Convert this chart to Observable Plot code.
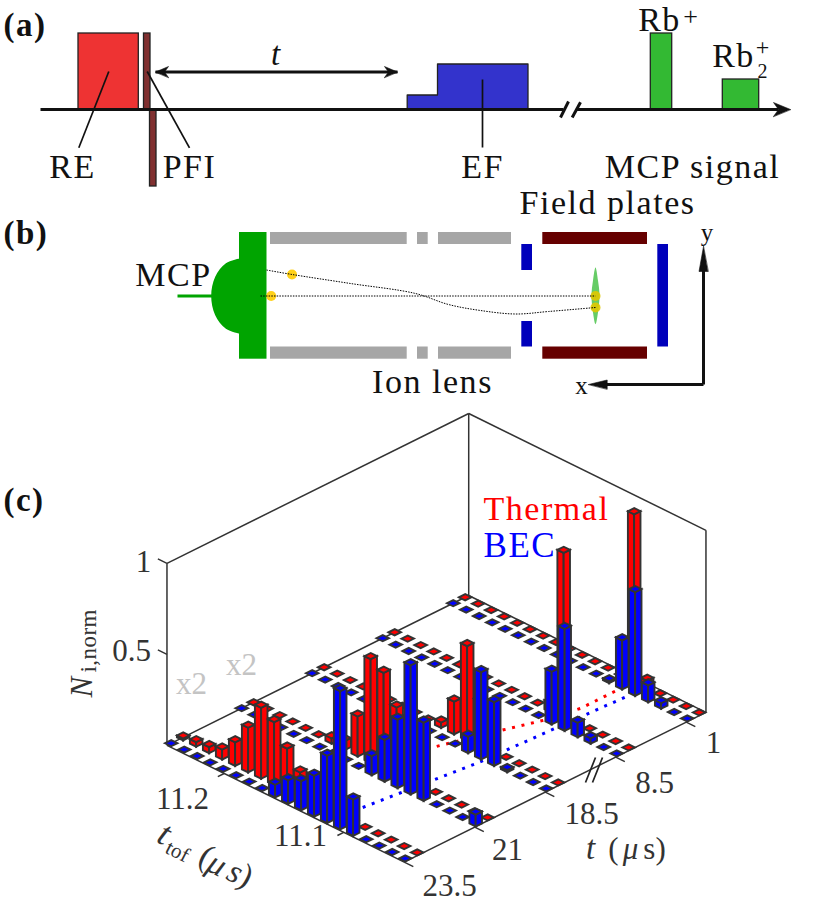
<!DOCTYPE html>
<html><head><meta charset="utf-8">
<script src="https://cdn.jsdelivr.net/npm/d3@7"></script>
<script src="https://cdn.jsdelivr.net/npm/@observablehq/plot@0.6"></script>
<style>html,body{margin:0;padding:0;background:#fff}svg{display:block}</style>
</head><body><div id="chart"></div>
<script>
// ---------- (c) values: normalised ion number per ttof bin (19 bins), per delay t
const tLabels = ["23.5","21","18.5","8.5","1"];
const tofTicks = [["11.2",4.4],["11.1",13.6]];
const thermal235 = [.01,.025,.033,.055,.13,.245,.39,.346,.236,.14,0,0,0,0,0,0,0,0,0];
const bec235     = [0,0,0,0,0,0,0,0,.07,.13,.16,.225,.37,.76,.2,0,0,0,0];
const thermal21  = [0,0,0,0,0,0,.03,.05,.22,.57,.53,.375,.1,0,0,0,0,0,0];
const bec21      = [0,0,0,0,0,0,0,0,0,0,.105,.23,.376,.71,.43,0,0,0,.065];
const thermal185 = [0,0,0,0,0,0,0,0,0,.03,.18,.52,.25,0,0,0,0,0,0];
const bec185     = [0,0,0,0,0,0,0,0,0,0,0,0,.09,.48,.35,.012,0,0,0];
const thermal85  = [0,0,0,0,0,0,0,0,0,0,0,0,.05,.91,0,0,0,0,0];
const bec85      = [0,0,0,0,0,0,0,0,0,0,0,0,0,.29,.56,.08,.03,0,0];
const thermal1   = [0,0,0,0,0,0,0,0,0,0,0,0,0,.93,.05,0,0,0,0];
const bec1       = [0,0,0,0,0,0,0,0,0,0,0,0,.01,.27,.57,.093,.03,0,0];
const thermalRows = [thermal235,thermal21,thermal185,thermal85,thermal1];
const becRows     = [bec235,bec21,bec185,bec85,bec1];
const thermalGuide = [[10.5,1.66],[11.8,2.37],[12.6,2.79],[13.1,3.22],[13.1,3.74]];
const becGuide     = [[12.4,.43],[13.37,1.88],[13.95,3.87]];

// ---------- oblique view of the (bin, row, N) box
const project = (i,j,z=0)=>({x:170.7+13*i+70.5*j, y:742.7+6.4*i-35*j-182*z});
const DARK="#333";
const RED_ROW=.17;
const polys=[]; let pid=0;
function poly(pts,fill,stroke=DARK){const id=pid++;for(const p of pts)polys.push({id,x:p.x,y:p.y,fill,stroke});}
const bars=[];
becRows.forEach((r,j)=>r.forEach((z,i)=>bars.push({i,j,z,fill:"#0000ff"})));
thermalRows.forEach((r,j)=>r.forEach((z,i)=>bars.push({i,j:j+RED_ROW,z,fill:"#ff0000"})));
bars.sort((a,b)=>project(a.i,a.j).y-project(b.i,b.j).y);
const A=.24,B=.045;
for(const {i,j,z,fill} of bars){
  const c=(di,dj,h)=>project(i+di,j+dj,h);
  if(z>0){
    poly([c(-A,-B,0),c(A,-B,0),c(A,-B,z),c(-A,-B,z)],fill);
    poly([c(A,-B,0),c(A,B,0),c(A,B,z),c(A,-B,z)],fill);
  }
  poly([c(-A,-B,z),c(A,-B,z),c(A,B,z),c(-A,B,z)],fill);
}
const I0=0,I1=18.25,J0=-.06,J1=4.22;
const seg=(a,b)=>({x1:a.x,y1:a.y,x2:b.x,y2:b.y});
const boxBack=[
  seg(project(I0,J0,0),project(I0,J0,1)),
  seg(project(I0,J0,1),project(I0,J1,1)),
  seg(project(I0,J1,1),project(I0,J1,0)),
  seg(project(I0,J1,1),project(I1,J1,1)),
  seg(project(I1,J1,1),project(I1,J1,0)),
  seg(project(I0,J0,0),project(I0,J1,0)),
  seg(project(I0,J1,0),project(I1,J1,0)),
];
const boxFront=[
  seg(project(I0,J0,0),project(I1,J0,0)),
  seg(project(I1,J0,0),project(I1,J1,0)),
  ...tLabels.map((_,j)=>seg(project(I1,j+J0),project(I1+.7,j+J0))),
  ...tofTicks.map(([,i])=>seg(project(i,J0),project(i,J0-.09))),
  ...[0.5,1].map(z=>seg(project(I0,J0,z),project(I0-.7,J0,z))),
];
const guideT=thermalGuide.map(([i,j])=>project(i,j+RED_ROW));
const guideB=becGuide.map(([i,j])=>project(i,j));

// ---------- (a) pulse sequence, (b) apparatus: schematic blocks
const blocks=[
 [78,138.3,33,109,"#ee3333"],[143.5,150,33,109,"#803030"],[149.5,156,109,186,"#803030"],
 [650.3,671.7,33,109,"#33b933"],[722.3,758.7,79,109,"#33b933"]
];
const plates=[
 [239,266.5,232,358.7,"#00a400"],
 [270,406.7,232,244,"#a6a6a6"],[417,427.7,232,244,"#a6a6a6"],[438,511,232,244,"#a6a6a6"],
 [270,406.7,346.5,358.7,"#a6a6a6"],[417,427.7,346.5,358.7,"#a6a6a6"],[438,511,346.5,358.7,"#a6a6a6"],
 [521.3,532,244,270,"#0000bb"],[521.3,532,321,346.5,"#0000bb"],[657.3,668,244,346.5,"#0000bb"],
 [542.3,647,232,244,"#660000"],[542.3,647,346.5,358.7,"#660000"]
];
const efShape=[[406.7,109],[406.7,94.5],[437,94.5],[437,63.5],[527.5,63.5],[527.5,109]];
const dome=[[240,257.7],[225.4,262.8],[214.6,276.6],[210.7,295.5],[214.6,314.4],[225.4,328.2],[240,333.3]];
const cloud=[[595,267],[597.5,280],[599,295],[597.5,312],[595,323.7],[592.5,312],[591,295],[592.5,280]];
const ions=[[291.5,274,"#ffcc00"],[270.7,295.5,"#ffcc00"],[595,295.5,"#e0c800"],[595,307,"#e0c800"]];
const path1=[[260,295.5],[595,295.5]];
const path2=[[266,269.5],[291.7,274],[350,283],[415,293],[448,304],[480,310],[515,313.5],[548,311],[595,307]];
const thinLines=[
 [108.3,71,78.3,147.3],[146.7,71,189,147.3],[482,79,482,147]
];
const thickLines=[
 [40,109,563,109],[576,109,778,109],[155,71.5,397,71.5],
 [560,117,568,101],[571.7,117,580,101.7],
 [703,384,703,262],[703,384,600,384]
];
const heads=[
 [[155,71.5],[168,66],[164,71.5],[168,77]],
 [[397,71.5],[384,66],[388,71.5],[384,77]],
 [[790,109],[773,102],[778,109],[773,116]],
 [[703,246],[698.5,271],[707.5,271]],
 [[588,384],[606.7,379.5],[606.7,388.5]]
];
const brk=[[595,757,585,782],[602,757,592,782]];

// ---------- text: text, x, baseline y, size, anchor, colour, weight, rotation, style, spacing
const SERIF="Liberation Serif";
const W=".045em";
const labels=[
 ["(a)",3,35,33,"start","#111","bold",0,"normal",W],["(b)",3,243,33,"start","#111","bold",0,"normal",W],["(c)",3,510,33,"start","#111","bold",0,"normal",W],
 ["RE",72,177,34,"middle","#111","normal",0,"normal",W],["PFI",189,177,34,"middle","#111","normal",0,"normal",W],["EF",482,177,34,"middle","#111","normal",0,"normal",W],
 ["MCP signal",692,177,34,"middle","#111","normal",0,"normal",W],
 ["Rb",659,30,34,"middle","#111","normal",0,"normal",W],["+",690,24,26,"middle","#111"],
 ["Rb",733,66,34,"middle","#111","normal",0,"normal",W],["+",762,54,24,"middle","#111"],["2",762,77,20,"middle","#111"],
 ["MCP",173,285,34,"middle","#111","normal",0,"normal",W],["Field plates",607,213,34,"middle","#111","normal",0,"normal",W],["Ion lens",432,392,34,"middle","#111","normal",0,"normal",W],
 ["x",581,393,25,"middle","#111"],["y",706.5,240,25,"middle","#111"],
 ["Thermal",483,519,34,"start","#ff0000","normal",0,"normal",W],["BEC",483,556,35,"start","#0000ff","normal",0,"normal",W],
 ["1",143,571,31,"middle",DARK],["0.5",131,660,31,"middle",DARK],
 ["x2",191,693,31,"middle","#c4c4c4"],["x2",241,674,31,"middle","#c4c4c4"],
 ["11.2",182,808,31,"middle",DARK],["11.1",300,845,31,"middle",DARK],
 ["23.5",449,895,31,"middle",DARK],["21",507,859,31,"middle",DARK],["18.5",591,823,31,"middle",DARK],
 ["8.5",654,792,31,"middle",DARK],["1",713,752,31,"middle",DARK],
 // italic t on the delay arrow, axis titles built from pieces
 ["t",275,64,33,"middle","#111","normal",0,"italic"],
 ["t",590,858,33,"middle",DARK,"normal",0,"italic"],
 ["(",613,858,31,"middle",DARK],["μ",630,858,31,"middle",DARK,"normal",0,"italic"],["s)",654,858,31,"middle",DARK],
 ["N",91,697,31,"start",DARK,"normal",-90,"italic"],
 ["i,norm",95.5,672,23,"start",DARK,"normal",-90,"normal",".02em"],
 ["t",159,843,35,"middle",DARK,"normal",27,"italic"],
 ["tof",174,857,21,"middle",DARK,"normal",27],
 ["(",201,865,33,"middle",DARK,"normal",27],
 ["μ",212,873,33,"middle",DARK,"normal",27,"italic"],
 ["s",230,881,33,"middle",DARK,"normal",27,"italic"],
 [")",241,885,33,"middle",DARK,"normal",27]
];
const labelMark=([text,x,y,size,anchor,color,weight="normal",rot=0,st="normal",spacing="0"])=>
  Plot.text([{text,x,y}],{x:"x",y:"y",text:"text",fontSize:size,fill:color,textAnchor:anchor,lineAnchor:"bottom",
    fontFamily:SERIF,fontWeight:weight,rotate:rot,fontStyle:st,
    render(index,scales,values,dims,ctx,next){const g=next(index,scales,values,dims,ctx);g.style.letterSpacing=spacing;return g;}});

const link=(rows,w,color,extra={})=>Plot.link(rows,{x1:d=>d[0],y1:d=>d[1],x2:d=>d[2],y2:d=>d[3],stroke:color,strokeWidth:w,...extra});
const blockRect=(rows,opts)=>Plot.rect(rows,{x1:d=>d[0],x2:d=>d[1],y1:d=>d[2],y2:d=>d[3],fill:d=>d[4],...opts});
const shape=(pts,o)=>Plot.line(pts,{x:d=>d[0],y:d=>d[1],curve:"linear-closed",...o});

const chart=Plot.plot({
  width:830,height:912,margin:0,
  style:{background:"#fff",overflow:"visible"},
  x:{domain:[0,830],range:[0,830],axis:null},
  y:{domain:[0,912],range:[0,912],axis:null},
  color:{type:"identity"},
  marks:[
    // (a)
    blockRect(blocks,{stroke:"#222",strokeWidth:1.3}),
    shape(efShape,{fill:"#3333cc",stroke:"#222",strokeWidth:1.3}),
    link(thinLines,1.7,"#111"),
    link(thickLines.slice(0,3),3.2,"#111",{strokeLinecap:"butt"}),
    link(thickLines.slice(3,5),3,"#111"),
    ...heads.slice(0,3).map(h=>shape(h,{fill:"#111",stroke:"#111",strokeWidth:.6})),
    // (b)
    blockRect(plates,{}),
    Plot.line(dome,{x:d=>d[0],y:d=>d[1],curve:"catmull-rom",fill:"#00a400"}),
    link([[177,295.5,212,295.5]],3,"#00a400",{strokeLinecap:"butt"}),
    shape(cloud,{fill:"#66cc66",curve:"catmull-rom-closed"}),
    Plot.dot(ions,{x:d=>d[0],y:d=>d[1],r:5,fill:d=>d[2],fillOpacity:.9}),
    Plot.line(path1,{x:d=>d[0],y:d=>d[1],stroke:"#000",strokeWidth:1,strokeLinecap:"butt",strokeDasharray:"1.5 1.2"}),
    Plot.line(path2,{x:d=>d[0],y:d=>d[1],stroke:"#000",strokeWidth:1,strokeLinecap:"butt",strokeDasharray:"1.5 1.2",curve:"catmull-rom"}),
    link(thickLines.slice(5),3,"#111"),
    ...heads.slice(3).map(h=>shape(h,{fill:"#111",stroke:"#111",strokeWidth:.6})),
    // (c)
    Plot.link(boxBack,{x1:"x1",y1:"y1",x2:"x2",y2:"y2",stroke:DARK,strokeWidth:1.5}),
    Plot.line(guideT,{x:"x",y:"y",stroke:"#ff0000",strokeWidth:3,strokeLinecap:"butt",strokeDasharray:"3 6.7"}),
    Plot.line(guideB,{x:"x",y:"y",stroke:"#0000ff",strokeWidth:3,strokeLinecap:"butt",strokeDasharray:"3 6.7"}),
    Plot.line(polys,{x:"x",y:"y",z:"id",fill:"fill",stroke:"stroke",strokeWidth:1.9,strokeLinejoin:"miter",strokeMiterlimit:4,curve:"linear-closed"}),
    Plot.link(boxFront,{x1:"x1",y1:"y1",x2:"x2",y2:"y2",stroke:DARK,strokeWidth:1.5}),
    link(brk,1.7,"#222"),
    // text
    ...labels.map(labelMark)
  ]
});
document.getElementById("chart").appendChild(chart);
</script></body></html>
